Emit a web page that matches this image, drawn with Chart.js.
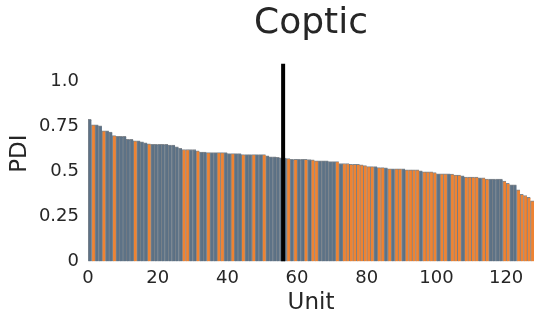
<!DOCTYPE html>
<html>
<head>
<meta charset="utf-8">
<script src="https://cdn.jsdelivr.net/npm/chart.js@4"></script>
<style>
  html, body { margin: 0; padding: 0; background: #fff; }
  #wrap { width: 541px; height: 324px; }
</style>
</head>
<body>
<div id="wrap"><canvas id="chart"></canvas></div>
<script>
// PDI per unit, sorted descending
const pdi = [
  0.79, 0.76, 0.76, 0.754, 0.727, 0.727, 0.72, 0.70, 0.696, 0.696,
  0.696, 0.679, 0.679, 0.671, 0.671, 0.666, 0.66, 0.654, 0.651, 0.651,
  0.651, 0.651, 0.651, 0.647, 0.647, 0.638, 0.63, 0.623, 0.623, 0.623,
  0.623, 0.616, 0.608, 0.608, 0.605, 0.605, 0.605, 0.605, 0.605, 0.605,
  0.60, 0.60, 0.60, 0.60, 0.594, 0.594, 0.594, 0.594, 0.594, 0.594,
  0.594, 0.588, 0.582, 0.582, 0.579, 0.577, 0.575, 0.573, 0.568, 0.568,
  0.568, 0.568, 0.568, 0.567, 0.566, 0.56, 0.56, 0.56, 0.56, 0.555,
  0.555, 0.555, 0.545, 0.545, 0.545, 0.54, 0.54, 0.54, 0.538, 0.533,
  0.528, 0.528, 0.528, 0.522, 0.522, 0.521, 0.516, 0.516, 0.516, 0.516,
  0.515, 0.51, 0.51, 0.51, 0.51, 0.504, 0.498, 0.498, 0.498, 0.494,
  0.488, 0.488, 0.488, 0.488, 0.486, 0.481, 0.481, 0.477, 0.47, 0.47,
  0.47, 0.47, 0.465, 0.465, 0.458, 0.458, 0.458, 0.458, 0.458, 0.447,
  0.434, 0.427, 0.427, 0.398, 0.373, 0.367, 0.357, 0.338
];

// group of each unit: 0 = slate, 1 = orange
const group = [
  0,1,0,0,1,0,0,1,0,0, 0,0,0,1,0,0,0,1,0,0,
  0,0,0,0,0,0,0,1,1,0, 0,1,0,0,1,0,0,1,1,0,
  0,1,0,0,1,0,0,1,0,0, 1,0,0,0,0,0,0,1,0,1,
  0,0,1,0,1,1,0,0,0,0, 0,1,0,1,1,1,1,1,1,1,
  1,1,0,1,1,0,1,0,1,1, 0,1,1,1,1,0,1,1,1,1,
  0,1,1,0,1,1,1,0,1,1, 1,1,0,1,1,0,0,0,0,1,
  1,0,0,1,1,1,1,1
];

// split marker: x position and its height
const splitAt = 56;
const splitTop = 1.1;
const xTicks = [0, 20, 40, 60, 80, 100, 120];
const yTicks = [0, 0.25, 0.5, 0.75, 1.0];
const yTickLabels = ["0", "0.25", "0.5", "0.75", "1.0"];

const SLATE = "#5d7286";
const ORANGE = "#ef8332";
const TEXT = "#262626";
const FONT = "'DejaVu Sans', sans-serif";

const barData = pdi.map((v, i) => ({ x: i + 0.5, y: v }));
const barColors = group.map(g => g ? ORANGE : SLATE);

new Chart(document.getElementById("chart"), {
  type: "bar",
  data: {
    datasets: [
      {
        type: "line",
        data: [{ x: splitAt, y: 0 }, { x: splitAt, y: splitTop }],
        borderColor: "#000",
        borderWidth: 4,
        pointRadius: 0,
        order: 0
      },
      {
        data: barData,
        backgroundColor: barColors,
        borderColor: "rgba(45,55,65,0.6)",
        borderWidth: { left: 1, right: 0, top: 1, bottom: 0 },
        borderSkipped: false,
        barPercentage: 1,
        categoryPercentage: 1,
        order: 1
      }
    ]
  },
  options: {
    responsive: true,
    maintainAspectRatio: false,
    animation: false,
    layout: { padding: { left: 0, right: 7, top: 2.5, bottom: 0 } },
    plugins: {
      legend: { display: false },
      tooltip: { enabled: false },
      title: {
        display: true,
        text: "Coptic",
        fullSize: false,
        color: TEXT,
        font: { family: FONT, size: 36, weight: "normal" },
        padding: { top: 0, bottom: 0 }
      }
    },
    scales: {
      x: {
        type: "linear",
        min: 0,
        max: 128,
        offset: false,
        grid: { display: false, drawTicks: false, offset: false },
        border: { display: false },
        afterBuildTicks: (s) => { s.ticks = xTicks.map(v => ({ value: v })); },
        afterFit: (s) => { s.height = 62.5; },
        ticks: {
          color: TEXT,
          padding: 6,
          maxRotation: 0,
          font: { family: FONT, size: 18 }
        },
        title: {
          display: true,
          text: "Unit",
          color: TEXT,
          font: { family: FONT, size: 23 },
          padding: { top: 0, bottom: 7 }
        }
      },
      y: {
        min: 0,
        max: 1.2,
        grid: { display: false, drawTicks: false },
        border: { display: false },
        afterBuildTicks: (s) => { s.ticks = yTicks.map(v => ({ value: v })); },
        afterFit: (s) => { s.width = 88; },
        ticks: {
          color: TEXT,
          padding: 9,
          font: { family: FONT, size: 18 },
          callback: (v) => yTickLabels[yTicks.indexOf(v)]
        },
        title: {
          display: true,
          text: "PDI",
          color: TEXT,
          font: { family: FONT, size: 23 },
          padding: { top: 6, bottom: 0 }
        }
      }
    }
  }
});
</script>
</body>
</html>
